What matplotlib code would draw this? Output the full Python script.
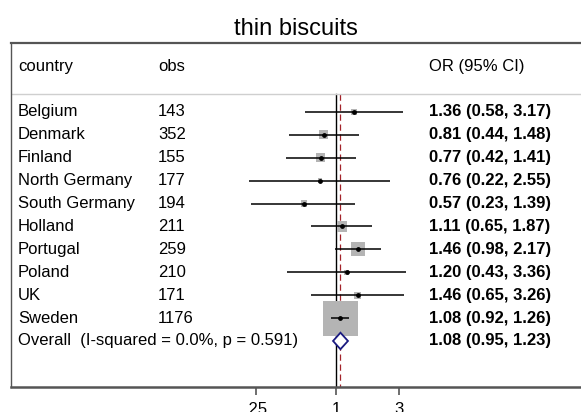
"""
Forest plot: thin biscuits, OR by country with pooled estimate.
"""
import matplotlib.pyplot as plt
import matplotlib.transforms as mtransforms
import numpy as np

plt.rcParams["font.family"] = ["Liberation Sans", "DejaVu Sans"]

COUNTRIES = ["Belgium", "Denmark", "Finland", "North Germany", "South Germany",
             "Holland", "Portugal", "Poland", "UK", "Sweden"]
OBS = [143, 352, 155, 177, 194, 211, 259, 210, 171, 1176]
OR = [1.36, 0.81, 0.77, 0.76, 0.57, 1.11, 1.46, 1.20, 1.46, 1.08]
LO = [0.58, 0.44, 0.42, 0.22, 0.23, 0.65, 0.98, 0.43, 0.65, 0.92]
HI = [3.17, 1.48, 1.41, 2.55, 1.39, 1.87, 2.17, 3.36, 3.26, 1.26]

OVERALL_LABEL = "Overall  (I-squared = 0.0%, p = 0.591)"
OVERALL = (1.08, 0.95, 1.23)

TICKS = [0.25, 1, 3]
TICK_LABELS = [".25", "1", "3"]

FS = 12
BOX_GREY = "#b4b4b4"

fig = plt.figure(figsize=(5.81, 4.12), dpi=100)
ax = fig.add_axes([11 / 581, 25 / 412, 570 / 581, 344 / 412])

ax.set_xscale("log")
ax.set_xlim(np.exp(-5.633), np.exp(4.246))
ax.set_ylim(-12.01, 3.01)

# text columns: x in axes fraction, y in data
trans = mtransforms.blended_transform_factory(ax.transAxes, ax.transData)
x_country = (18 - 11) / 570
x_obs = (158 - 11) / 570
x_or = (429 - 11) / 570

ax.text(x_country, 2.0, "country", transform=trans, fontsize=FS, va="center")
ax.text(x_obs, 2.0, "obs", transform=trans, fontsize=FS, va="center")
ax.text(x_or, 2.0, "OR (95% CI)", transform=trans, fontsize=FS, va="center")
ax.axhline(0.79, color="#cfcfcf", linewidth=1.0)

# study weights (inverse variance from the CI)
lo = np.array(LO)
hi = np.array(HI)
se = (np.log(hi) - np.log(lo)) / (2 * 1.96)
w = 1 / se**2
sizes = 635 * w / w.max()

ys = -np.arange(len(COUNTRIES))

# reference lines
ax.plot([1, 1], [0.79, -12.01], color="black", linewidth=1.0, zorder=1)
ax.plot([OVERALL[0]] * 2, [0.79, -12.01], color="#a3222a", linewidth=0.9,
        linestyle=(0, (5, 3)), zorder=1)

ax.scatter(OR, ys, s=sizes, marker="s", color=BOX_GREY, linewidths=0, zorder=2)
ax.hlines(ys, LO, HI, color="black", linewidth=1.1, zorder=3)
ax.scatter(OR, ys, s=6, color="black", zorder=4)

for y, c, n, o, l, h in zip(ys, COUNTRIES, OBS, OR, LO, HI):
    ax.text(x_country, y, c, transform=trans, fontsize=FS, va="center")
    ax.text(x_obs, y, str(n), transform=trans, fontsize=FS, va="center")
    ax.text(x_or, y, f"{o:.2f} ({l:.2f}, {h:.2f})", transform=trans,
            fontsize=FS, va="center", fontweight="bold")

# pooled diamond
y_ov = -len(COUNTRIES)
est, olo, ohi = OVERALL
dx = [olo, est, ohi, est, olo]
dy = [y_ov, y_ov + 0.36, y_ov, y_ov - 0.36, y_ov]
ax.fill(dx, dy, facecolor="white", edgecolor="#1a1a80", linewidth=1.3, zorder=5)
ax.text(x_country, y_ov, OVERALL_LABEL, transform=trans, fontsize=FS, va="center")
ax.text(x_or, y_ov, f"{est:.2f} ({olo:.2f}, {ohi:.2f})", transform=trans,
        fontsize=FS, va="center", fontweight="bold")

# frame and axis
ax.set_yticks([])
ax.spines["right"].set_visible(False)
ax.spines["left"].set_color("#555555")
ax.spines["top"].set_color("#555555")
ax.spines["left"].set_linewidth(1.0)
ax.spines["top"].set_linewidth(1.6)
ax.spines["bottom"].set_color("#555555")
ax.spines["bottom"].set_linewidth(1.8)
ax.set_xticks(TICKS)
ax.set_xticklabels(TICK_LABELS)
ax.minorticks_off()
ax.tick_params(axis="x", direction="out", length=6, width=1.2, color="#555555",
               labelsize=FS, pad=5)

ax.set_title("thin biscuits", fontsize=17, pad=6)

fig.savefig("out.png", dpi=100)
